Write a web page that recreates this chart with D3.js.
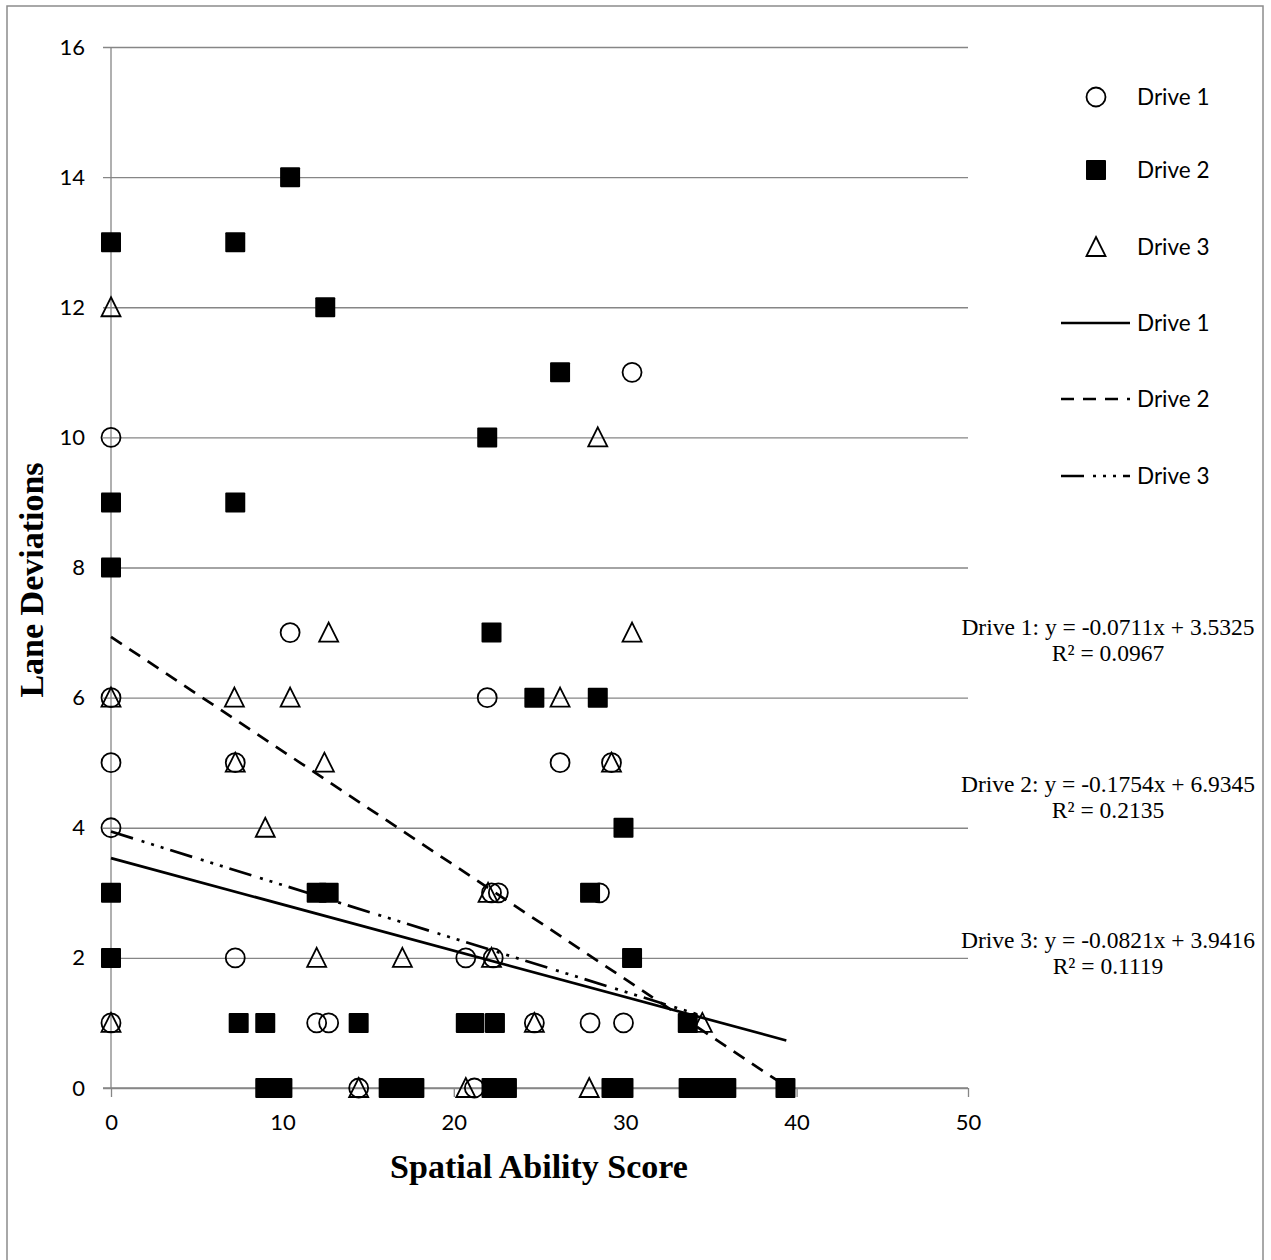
<!DOCTYPE html>
<html>
<head>
<meta charset="utf-8">
<script src="https://cdn.jsdelivr.net/npm/d3@7"></script>
<style>
  html, body { margin: 0; padding: 0; background: #fff; }
  svg { display: block; }
</style>
</head>
<body>
<svg id="chart" width="1271" height="1260"></svg>
<script>
// ---- Data ----
const xTicks = [0, 10, 20, 30, 40, 50];
const yTicks = [0, 2, 4, 6, 8, 10, 12, 14, 16];
const seriesNames = ["Drive 1", "Drive 2", "Drive 3"];

const drive1X = [0, 30.4, 10.45, 21.95, 0, 0, 7.25, 26.2, 29.2, 0, 22.2, 22.6, 28.5, 7.25, 20.7, 22.3, 0, 12, 12.7, 24.7, 27.95, 29.9, 14.45, 21.2];
const drive1Y = [10, 11, 7, 6, 6, 5, 5, 5, 5, 4, 3, 3, 3, 2, 2, 2, 1, 1, 1, 1, 1, 1, 0, 0];

const drive2X = [0, 7.25, 10.45, 12.5, 26.2, 21.95, 0, 7.25, 0, 22.2, 24.7, 28.4, 29.9, 0, 12, 12.7, 27.95, 0, 30.4, 7.45, 9, 14.45, 20.7, 21.2, 22.4, 33.65, 9, 9.5, 10, 16.2, 16.8, 17.3, 17.7, 22.2, 22.6, 23.1, 29.2, 29.6, 29.9, 33.7, 34.3, 34.9, 35.4, 35.9, 39.35];
const drive2Y = [13, 13, 14, 12, 11, 10, 9, 9, 8, 7, 6, 6, 4, 3, 3, 3, 3, 2, 2, 1, 1, 1, 1, 1, 1, 1, 0, 0, 0, 0, 0, 0, 0, 0, 0, 0, 0, 0, 0, 0, 0, 0, 0, 0, 0];

const drive3X = [0, 28.4, 12.7, 30.4, 0, 7.2, 10.45, 26.2, 7.25, 12.45, 29.2, 9, 22, 12, 17, 22.2, 0, 24.7, 34.5, 14.45, 20.7, 27.9];
const drive3Y = [12, 10, 7, 7, 6, 6, 6, 6, 5, 5, 5, 4, 3, 2, 2, 2, 1, 1, 1, 0, 0, 0];

// linear trendlines (from the chart's equations)
const trendSlopes = [-0.0711, -0.1754, -0.0821];
const trendIntercepts = [3.5325, 6.9345, 3.9416];
const trendXEnd = [39.4, 39.4, 34.5];
const trendR2 = ["0.0967", "0.2135", "0.1119"];

// ---- Layout ----
const svg = d3.select("#chart");
const plot = { left: 111, right: 968, top: 47, bottom: 1088 };
const x = d3.scaleLinear().domain([0, 50]).range([plot.left, plot.right]);
const y = d3.scaleLinear().domain([0, 16]).range([plot.bottom, plot.top]);
const gridColor = "#868686";
const tickFont = "Lato, 'Open Sans', sans-serif";
const serif = "'Liberation Serif', 'DejaVu Serif', serif";

// chart border
svg.append("rect").attr("x", 7).attr("y", 6).attr("width", 1256).attr("height", 1300)
  .attr("fill", "none").attr("stroke", "#8c8c8c").attr("stroke-width", 1.5);

// horizontal gridlines
const yAxis = d3.axisLeft(y).tickValues(yTicks).tickSize(-(plot.right - plot.left)).tickPadding(26).tickFormat(d3.format("d"));
const gy = svg.append("g").attr("transform", `translate(${plot.left},0)`).call(yAxis);
gy.select(".domain").remove();
gy.selectAll(".tick line").attr("stroke", gridColor).attr("stroke-width", 1.3).attr("x1", -8);
gy.selectAll(".tick text").attr("font-family", tickFont).attr("font-size", 22).attr("fill", "#000");

// x axis
const xAxis = d3.axisBottom(x).tickValues(xTicks).tickSize(9).tickPadding(17).tickFormat(d3.format("d"));
const gx = svg.append("g").attr("transform", `translate(0,${plot.bottom})`).call(xAxis);
gx.select(".domain").attr("stroke", gridColor).attr("stroke-width", 1.3).attr("d", `M${plot.left - 8},0H${plot.right}`);
gx.selectAll(".tick line").attr("stroke", gridColor).attr("stroke-width", 1.3);
gx.selectAll(".tick text").attr("font-family", tickFont).attr("font-size", 22).attr("fill", "#000");

// y axis line
svg.append("line").attr("x1", plot.left).attr("x2", plot.left).attr("y1", plot.top).attr("y2", plot.bottom)
  .attr("stroke", gridColor).attr("stroke-width", 1.3);

// axis titles
svg.append("text").attr("x", 539).attr("y", 1178).attr("text-anchor", "middle")
  .attr("font-family", serif).attr("font-weight", "bold").attr("font-size", 34).text("Spatial Ability Score");
svg.append("text").attr("transform", "translate(43,580) rotate(-90)").attr("text-anchor", "middle")
  .attr("font-family", serif).attr("font-weight", "bold").attr("font-size", 34).text("Lane Deviations");

// ---- markers ----
const R = 9.5;
function drawCircle(g, cx, cy) {
  g.append("circle").attr("cx", cx).attr("cy", cy).attr("r", R)
    .attr("fill", "none").attr("stroke", "#000").attr("stroke-width", 1.8);
}
function drawSquare(g, cx, cy) {
  g.append("rect").attr("x", cx - 10).attr("y", cy - 10).attr("width", 20).attr("height", 20)
    .attr("rx", 1).attr("fill", "#000");
}
function drawTriangle(g, cx, cy) {
  const h = 18, w = 19;
  g.append("path").attr("d", `M${cx},${cy - h / 2 - 1}L${cx + w / 2},${cy + h / 2}L${cx - w / 2},${cy + h / 2}Z`)
    .attr("fill", "none").attr("stroke", "#000").attr("stroke-width", 1.8).attr("stroke-linejoin", "miter");
}

const g1 = svg.append("g");
drive1X.forEach((v, i) => drawCircle(g1, x(v), y(drive1Y[i])));
const g2 = svg.append("g");
drive2X.forEach((v, i) => drawSquare(g2, x(v), y(drive2Y[i])));
const g3 = svg.append("g");
drive3X.forEach((v, i) => drawTriangle(g3, x(v), y(drive3Y[i])));

// ---- trendlines ----
const dashes = [null, "13,9", "23,9,3,7,3,7,3,7"];
trendSlopes.forEach((m, i) => {
  const b = trendIntercepts[i];
  svg.append("line")
    .attr("x1", x(0)).attr("y1", y(b))
    .attr("x2", x(trendXEnd[i])).attr("y2", y(b + m * trendXEnd[i]))
    .attr("stroke", "#000").attr("stroke-width", 2.7)
    .attr("stroke-dasharray", dashes[i]);
});

// ---- equations ----
const eqY = [635, 792, 948];
trendSlopes.forEach((m, i) => {
  const t = svg.append("text").attr("x", 1108).attr("y", eqY[i]).attr("text-anchor", "middle")
    .attr("font-family", serif).attr("font-size", 23.5);
  t.append("tspan").attr("x", 1108).text(`${seriesNames[i]}: y = ${m.toFixed(4)}x + ${trendIntercepts[i].toFixed(4)}`);
  t.append("tspan").attr("x", 1108).attr("dy", 26).text(`R² = ${trendR2[i]}`);
});

// ---- legend ----
const legY = [97, 170, 247, 323, 399, 476];
const lg = svg.append("g");
drawCircle(lg, 1096, legY[0]);
drawSquare(lg, 1096, legY[1]);
drawTriangle(lg, 1096, legY[2]);
[0, 1, 2].forEach(i => {
  lg.append("line").attr("x1", 1061).attr("x2", 1130).attr("y1", legY[3 + i]).attr("y2", legY[3 + i])
    .attr("stroke", "#000").attr("stroke-width", 2.7).attr("stroke-dasharray", dashes[i]);
});
seriesNames.concat(seriesNames).forEach((n, i) => {
  lg.append("text").attr("x", 1137).attr("y", legY[i]).attr("dy", "0.36em")
    .attr("font-family", tickFont).attr("font-size", 22.5).text(n);
});
</script>
</body>
</html>
